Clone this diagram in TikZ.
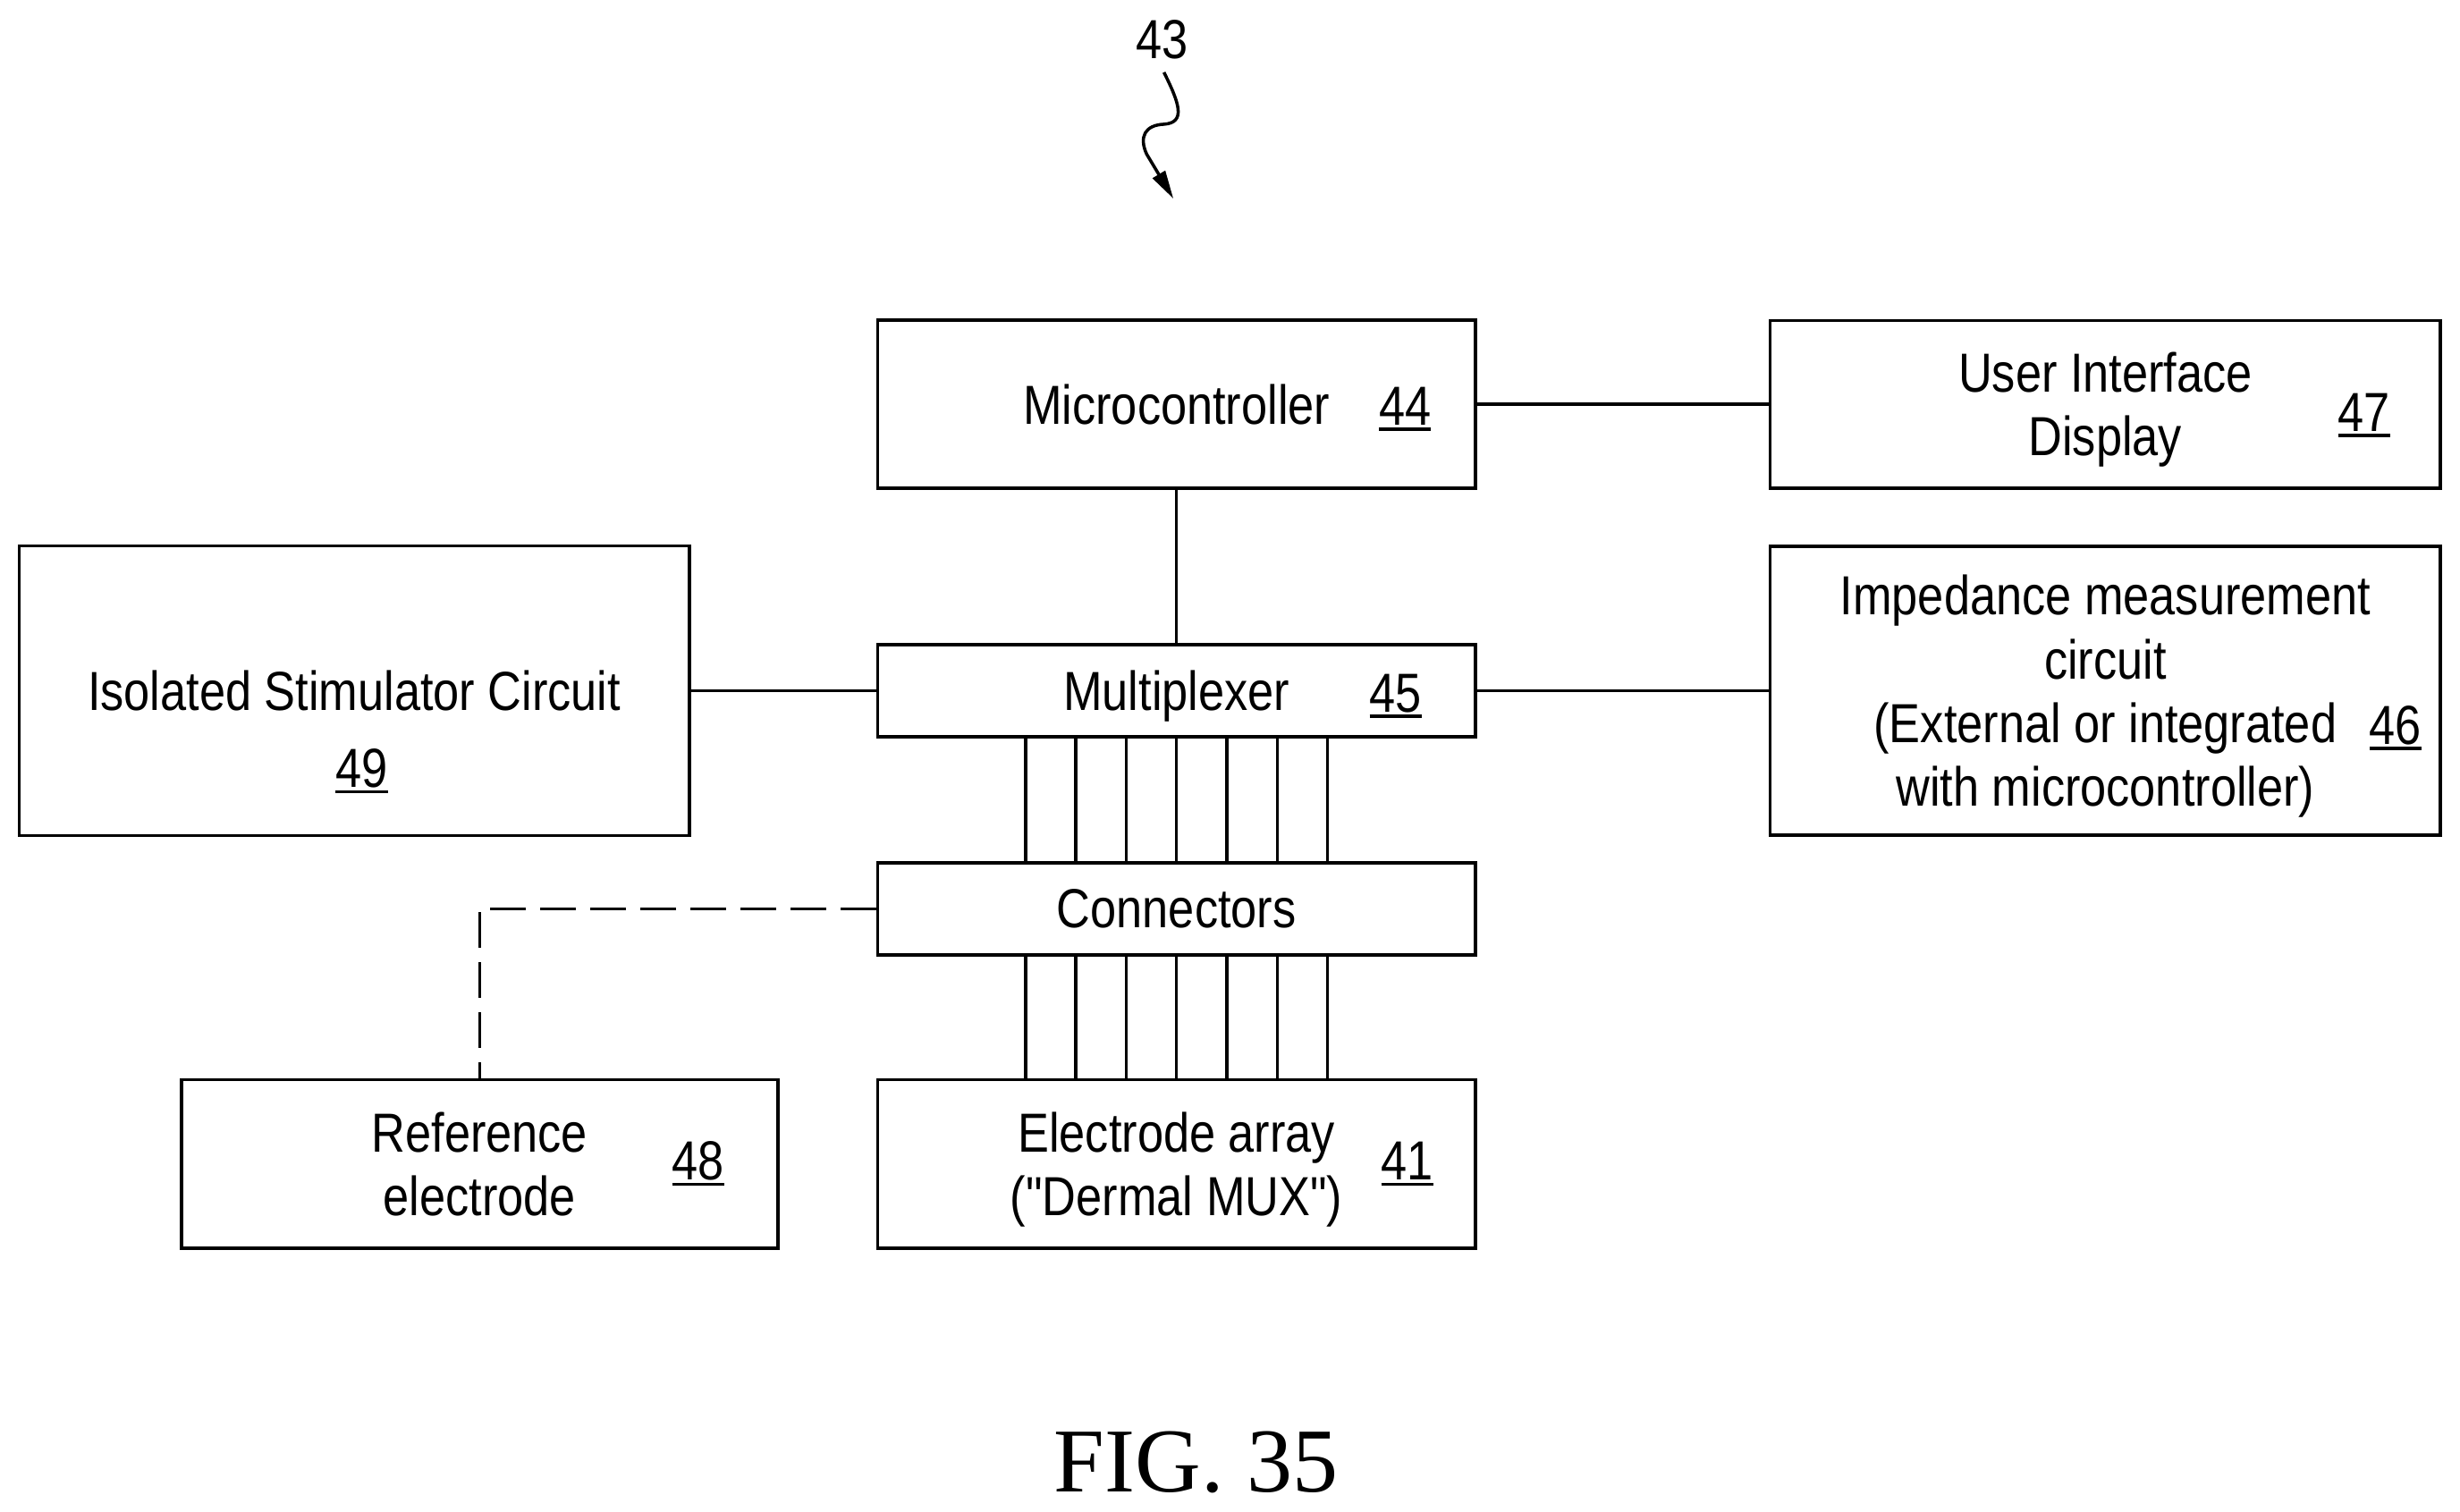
\documentclass[tikz,border=0pt]{standalone}
\usepackage{fontspec}
\newfontfamily\narrow{Liberation Sans}[FakeStretch=0.85]
\newfontfamily\figfont{Liberation Serif}
\usetikzlibrary{arrows.meta}
\newsavebox\numbox
\newcommand{\refno}[1]{\sbox\numbox{#1}\rlap{\rule[-1.9pt]{\wd\numbox}{1.1pt}}\usebox\numbox}
\tikzset{
  blk/.style={draw,line width=1pt,align=center,inner sep=0pt,text depth=0pt,
    font=\narrow\fontsize{17.5}{20.25}\selectfont},
  num/.style={anchor=base,inner sep=0pt,font=\narrow\fontsize{17.5}{20.25}\selectfont},
  wire/.style={line width=1pt},
}

\begin{document}
\begin{tikzpicture}[x=0.5pt,y=-0.5pt]
\useasboundingbox (0,0) rectangle (1564,961);
% blocks
\node[blk,minimum width=190pt,minimum height=53.5pt] (micro) at (748,257) {Microcontroller};
\node[blk,minimum width=213pt,minimum height=53.3pt] (ui) at (1338.5,257) {User Interface\\Display};
\node[blk,minimum width=213pt,minimum height=92pt] (iso) at (225.2,439.2) {Isolated Stimulator Circuit};
\node[blk,minimum width=190pt,minimum height=29.25pt] (mux) at (748,439.2) {Multiplexer};
\node[blk,minimum width=213pt,minimum height=91.8pt] (imp) at (1338.5,439.2) {Impedance measurement\\circuit\\(External or integrated\\with microcontroller)};
\node[blk,minimum width=190pt,minimum height=29.25pt] (conn) at (748,577.8) {Connectors};
\node[blk,minimum width=189.6pt,minimum height=53.5pt] (refel) at (304.9,740.1) {Reference\\electrode};
\node[blk,minimum width=190pt,minimum height=53.5pt] (elec) at (748,740.1) {Electrode array\\("Dermal MUX")};
% reference numbers
\node[num] (n44) at (893.3,270.1) {\refno{44}};
\node[num] (n47) at (1503,274.1) {\refno{47}};
\node[num] (n49) at (230,500.7) {\refno{49}};
\node[num] (n45) at (887.3,452.9) {\refno{45}};
\node[num] (n46) at (1523,473.1) {\refno{46}};
\node[num] (n48) at (444,750.3) {\refno{48}};
\node[num] (n41) at (894.7,750.3) {\refno{41}};
% lines
\draw[wire] (micro.east) -- (ui.west);
\draw[wire] (micro.south) -- (mux.north);
\draw[wire] (iso.east) -- (mux.west);
\draw[wire] (mux.east) -- (imp.west);
\foreach \dx in {-3,...,3} {
  \draw[wire] ([xshift=\dx*16pt]mux.south) -- ([xshift=\dx*16pt]conn.north);
  \draw[wire] ([xshift=\dx*16pt]conn.south) -- ([xshift=\dx*16pt]elec.north);
}
\draw[wire,dash pattern=on 11.4pt off 4.5pt] (conn.west) -| (refel.north);
% lead line 43
\node[num] (lbl43) at (739,37) {43};
\coordinate (from43) at (740,46);
\coordinate (tip43) at (746,126.3);
\draw[wire,-{Triangle[length=9pt,width=4.5pt]}] (from43) .. controls (750,66) and (754,78) .. (740,79)
  .. controls (728,79.5) and (724,87) .. (729,98) -- (tip43);
\node[anchor=base,inner sep=0pt,font=\figfont\fontsize{29}{34}\selectfont] (fig) at (760.4,948.4) {FIG. 35};
\end{tikzpicture}
\end{document}
